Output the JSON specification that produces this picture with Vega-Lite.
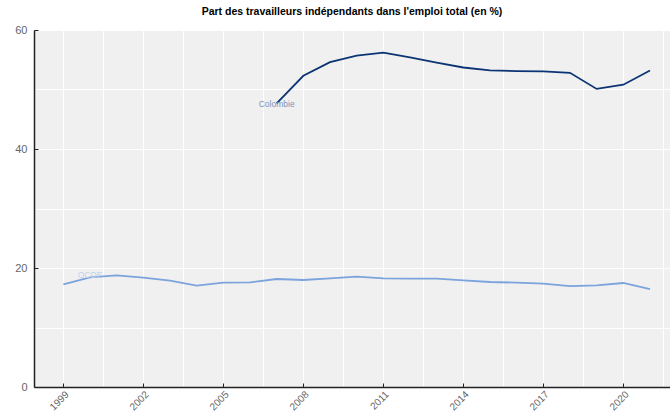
{
  "$schema": "https://vega.github.io/schema/vega-lite/v6.json",
  "width": 636,
  "height": 357,
  "autosize": {"type": "none"},
  "padding": {"left": 34, "top": 30, "right": 0, "bottom": 30},
  "background": "white",
  "title": {
    "text": "Part des travailleurs indépendants dans l'emploi total (en %)",
    "font": "Liberation Sans",
    "fontSize": 10.5,
    "fontWeight": "bold",
    "color": "#000000",
    "anchor": "middle",
    "offset": 7
  },
  "config": {
    "view": {"fill": "#f0f0f0", "stroke": null},
    "axis": {
      "labelFont": "Liberation Sans Narrow, Liberation Sans",
      "labelColor": "#666666",
      "gridColor": "#ffffff",
      "gridWidth": 1,
      "gridOpacity": 1,
      "domainColor": "#222222",
      "domainWidth": 1.5,
      "tickColor": "#222222",
      "title": null
    }
  },
  "datasets": {
    "series": [
      {"series": "OCDE", "year": 1999, "value": 17.26},
      {"series": "OCDE", "year": 2000, "value": 18.44},
      {"series": "OCDE", "year": 2001, "value": 18.77},
      {"series": "OCDE", "year": 2002, "value": 18.37},
      {"series": "OCDE", "year": 2003, "value": 17.87},
      {"series": "OCDE", "year": 2004, "value": 17.03},
      {"series": "OCDE", "year": 2005, "value": 17.53},
      {"series": "OCDE", "year": 2006, "value": 17.59},
      {"series": "OCDE", "year": 2007, "value": 18.15},
      {"series": "OCDE", "year": 2008, "value": 17.98},
      {"series": "OCDE", "year": 2009, "value": 18.26},
      {"series": "OCDE", "year": 2010, "value": 18.54},
      {"series": "OCDE", "year": 2011, "value": 18.26},
      {"series": "OCDE", "year": 2012, "value": 18.2},
      {"series": "OCDE", "year": 2013, "value": 18.2},
      {"series": "OCDE", "year": 2014, "value": 17.93},
      {"series": "OCDE", "year": 2015, "value": 17.65},
      {"series": "OCDE", "year": 2016, "value": 17.53},
      {"series": "OCDE", "year": 2017, "value": 17.37},
      {"series": "OCDE", "year": 2018, "value": 16.97},
      {"series": "OCDE", "year": 2019, "value": 17.09},
      {"series": "OCDE", "year": 2020, "value": 17.48},
      {"series": "OCDE", "year": 2021, "value": 16.47},
      {"series": "Colombie", "year": 2007, "value": 47.68},
      {"series": "Colombie", "year": 2008, "value": 52.3},
      {"series": "Colombie", "year": 2009, "value": 54.6},
      {"series": "Colombie", "year": 2010, "value": 55.7},
      {"series": "Colombie", "year": 2011, "value": 56.2},
      {"series": "Colombie", "year": 2012, "value": 55.4},
      {"series": "Colombie", "year": 2013, "value": 54.5},
      {"series": "Colombie", "year": 2014, "value": 53.7},
      {"series": "Colombie", "year": 2015, "value": 53.2},
      {"series": "Colombie", "year": 2016, "value": 53.1},
      {"series": "Colombie", "year": 2017, "value": 53.05},
      {"series": "Colombie", "year": 2018, "value": 52.8},
      {"series": "Colombie", "year": 2019, "value": 50.1},
      {"series": "Colombie", "year": 2020, "value": 50.8},
      {"series": "Colombie", "year": 2021, "value": 53.2}
    ],
    "labels": [
      {"series": "OCDE", "year": 2000, "value": 18.9, "text": "OCDE", "tcolor": "OCDE"},
      {"series": "Colombie", "year": 2007, "value": 47.6, "text": "Colombie", "tcolor": "Colombie"}
    ]
  },
  "layer": [
    {
      "data": {"name": "series"},
      "mark": {"type": "line", "strokeWidth": 1.8, "clip": true},
      "encoding": {
        "x": {
          "field": "year",
          "type": "quantitative",
          "scale": {"domain": [1997.9, 2021.75], "nice": false, "zero": false},
          "axis": {
            "values": [1999, 2000.5, 2002, 2003.5, 2005, 2006.5, 2008, 2009.5, 2011, 2012.5, 2014, 2015.5, 2017, 2018.5, 2020, 2021.5],
            "labelExpr": "(datum.value - 1999) % 3 == 0 ? toString(datum.value) : ''",
            "labelAngle": -45,
            "labelFontSize": 10,
            "labelPadding": 6,
            "tickSize": -4,
            "tickOpacity": {"condition": {"test": "(datum.value - 1999) % 3 == 0", "value": 1}, "value": 0},
            "labelOverlap": false,
            "labelFlush": false
          }
        },
        "y": {
          "field": "value",
          "type": "quantitative",
          "scale": {"domain": [0, 60], "nice": false},
          "axis": {
            "values": [0, 10, 20, 30, 40, 50, 60],
            "labelExpr": "datum.value % 20 == 0 ? toString(datum.value) : ''",
            "labelFontSize": 11,
            "labelPadding": 11,
            "tickSize": -4,
            "tickOpacity": {"condition": {"test": "datum.value % 20 == 0", "value": 1}, "value": 0},
            "labelFlush": false,
            "labelOverlap": false
          }
        },
        "color": {
          "field": "series",
          "type": "nominal",
          "scale": {"domain": ["Colombie", "OCDE"], "range": ["#0b3474", "#7ba3dc"]},
          "legend": null
        },
        "detail": {"field": "series"}
      }
    },
    {
      "data": {"name": "labels"},
      "mark": {"type": "text", "font": "Liberation Sans", "fontSize": 8.5, "align": "center", "baseline": "middle"},
      "encoding": {
        "x": {"field": "year", "type": "quantitative"},
        "y": {"field": "value", "type": "quantitative"},
        "text": {"field": "text"},
        "color": {
          "field": "tcolor",
          "type": "nominal",
          "scale": {"domain": ["Colombie", "OCDE"], "range": ["#7f93b9", "#c3d1e8"]},
          "legend": null
        }
      }
    }
  ],
  "resolve": {"scale": {"color": "independent"}}
}
